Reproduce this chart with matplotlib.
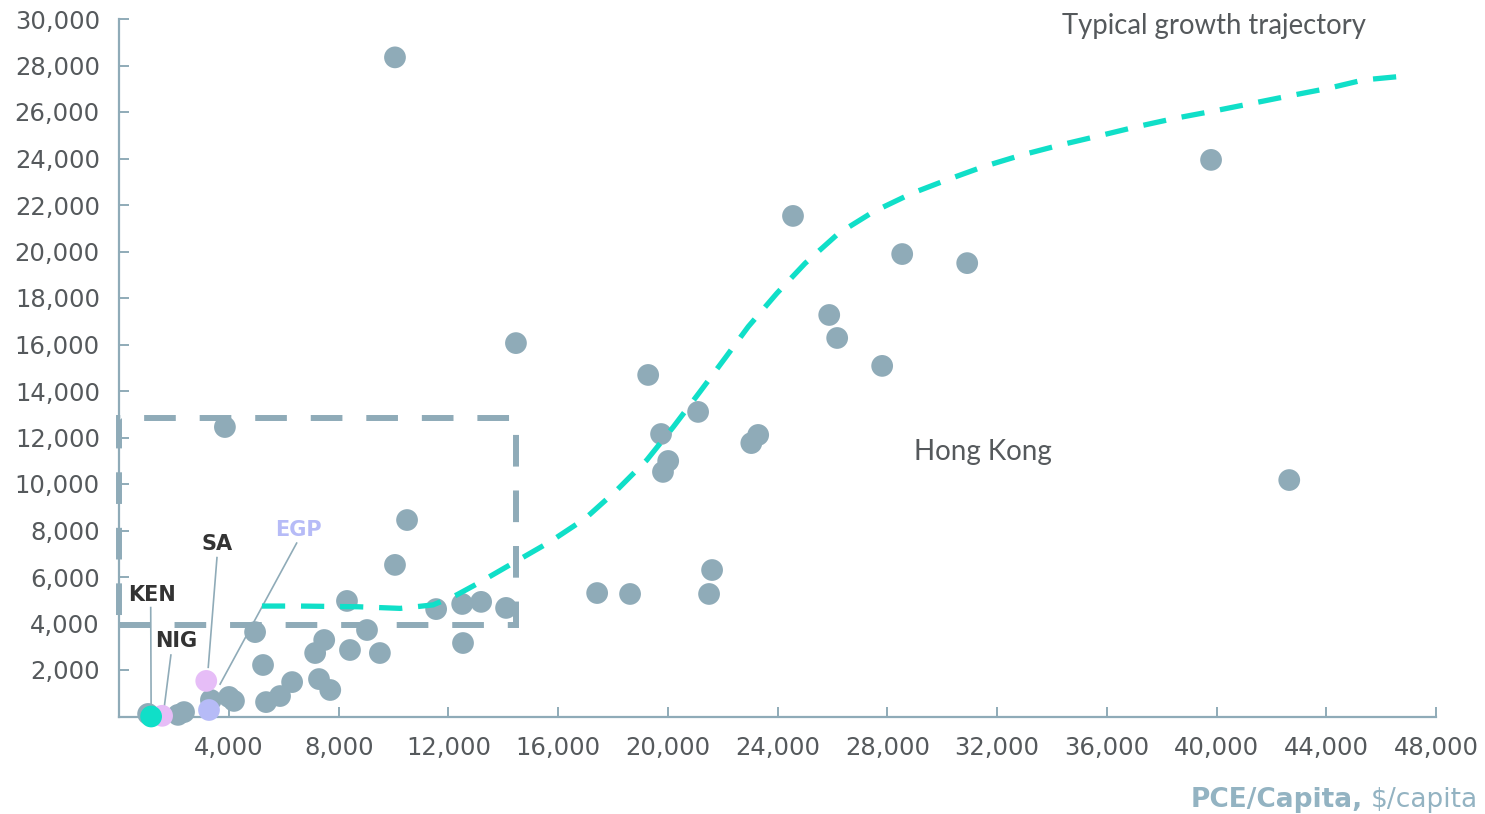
import matplotlib
matplotlib.use("Agg")
import matplotlib.pyplot as plt
from matplotlib.patches import Rectangle

# ---- data ----
pce_grey = [10050, 3850, 14460, 10490, 10050, 8300, 4950, 5240, 7470, 7140, 8410, 9030,
            9500, 6300, 5860, 5350, 7280, 7690, 4000, 4180, 3340, 2360, 2140, 1050,
            11550, 12500, 13190, 14100, 12530, 17420, 18620, 19280, 19750, 19820,
            20010, 21100, 21610, 21500, 23040, 23290, 24560, 25880, 26170, 27810,
            28540, 30910, 39800, 42650]
kwh_grey = [28350, 12450, 16060, 8450, 6520, 4970, 3630, 2215, 3290, 2730, 2860, 3720,
            2730, 1480, 880, 620, 1610, 1140, 840, 670, 710, 190, 70, 110,
            4620, 4840, 4930, 4670, 3160, 5310, 5270, 14690, 12150, 10520,
            10990, 13100, 6300, 5270, 11760, 12110, 21530, 17270, 16280, 15080,
            19890, 19500, 23940, 10170]

hl_names = ["SA", "EGP", "NIG", "KEN"]
hl_pce = [3170, 3270, 1560, 1160]
hl_kwh = [1530, 280, 30, 0]
hl_colors = ["#E6BDF7", "#B6BBF7", "#E6BDF7", "#10DFC8"]
label_colors = ["#333333", "#B6BBF7", "#333333", "#333333"]
label_xy = [(3563, 7420), (6530, 8020), (2070, 3230), (1180, 5220)]
leader_from = [(3563, 6870), (6480, 7490), (1885, 2680), (1145, 4720)]
leader_to = [(3240, 2080), (3660, 1360), (1640, 420), (1160, 420)]

curve_x = [5200, 6590, 8700, 10240, 11440, 12300, 13080, 14120, 15710, 16990, 18140,
           19230, 20200, 21170, 22080, 22930, 23970, 25000, 26220, 27490, 28890,
           30170, 31500, 32900, 34300, 35700, 37100, 38490, 39890, 41290, 42680,
           44080, 45360, 46880]
curve_y = [4750, 4750, 4720, 4650, 4800, 5230, 5730, 6440, 7520, 8520, 9740,
           11030, 12460, 13970, 15410, 16770, 18200, 19490, 20780, 21710, 22500,
           23080, 23650, 24150, 24580, 24970, 25370, 25730, 26040, 26370, 26700,
           27020, 27380, 27550]

box_x0, box_x1 = 0, 14450
box_y0, box_y1 = 3950, 12850

x_ticks = list(range(4000, 48001, 4000))
y_ticks = list(range(2000, 30001, 2000))

GREY = "#8FABB8"
TEAL = "#10DFC8"
TXT = "#55595C"

W, H = 1485, 814
fig = plt.figure(figsize=(W / 100, H / 100), dpi=100)
ax = fig.add_axes([119.3 / W, 1 - 716.5 / H, (1436 - 119.3) / W, (716.5 - 19) / H])

ax.set_xlim(0, 48000)
ax.set_ylim(0, 30000)

rect = Rectangle((box_x0, box_y0), box_x1 - box_x0, box_y1 - box_y0, fill=False,
                 edgecolor=GREY, lw=4.3, linestyle=(0, (5.3, 4.0)), zorder=1,
                 clip_on=False, capstyle="butt")
ax.add_patch(rect)

ax.scatter(pce_grey, kwh_grey, s=245, color=GREY, edgecolors="none", zorder=3, clip_on=False)

for i in range(len(hl_names)):
    ax.plot([leader_from[i][0], leader_to[i][0]], [leader_from[i][1], leader_to[i][1]],
            color=GREY, lw=1.2, zorder=2, solid_capstyle="butt")
    ax.text(label_xy[i][0], label_xy[i][1], hl_names[i], ha="center", va="center",
            fontsize=15, fontweight="bold", color=label_colors[i], family="DejaVu Sans")
ax.scatter(hl_pce, hl_kwh, s=245, c=hl_colors, edgecolors="none", zorder=4, clip_on=False)

ax.plot(curve_x, curve_y, color=TEAL, lw=3.8, linestyle=(0, (4.4, 3.0)),
        dash_capstyle="butt", zorder=5)

ax.text(39910, 29700, "Typical growth trajectory", ha="center", va="center",
        fontsize=19.8, color=TXT, family="Lato")
ax.text(31490, 11380, "Hong Kong", ha="center", va="center",
        fontsize=20, color=TXT, family="Lato")

for s in ["top", "right"]:
    ax.spines[s].set_visible(False)
for s in ["left", "bottom"]:
    ax.spines[s].set_color(GREY)
    ax.spines[s].set_linewidth(1.6)

ax.set_xticks(x_ticks)
ax.set_yticks(y_ticks)
ax.set_xticklabels([f"{v:,}" for v in x_ticks])
ax.set_yticklabels([f"{v:,}" for v in y_ticks])
ax.tick_params(direction="in", length=7, width=1.4, color=GREY, labelcolor=TXT,
               labelsize=17.5, pad=14)
for lab in ax.get_xticklabels() + ax.get_yticklabels():
    lab.set_family("DejaVu Sans")

# axis title: bold part + regular part, right-aligned
fig.canvas.draw()
r = fig.canvas.get_renderer()
t2 = fig.text(1478 / W, 1 - 800 / H, "\\$/capita", ha="right", va="center",
              fontsize=19, color="#93B3C2", family="DejaVu Sans")
bb = t2.get_window_extent(renderer=r)
fig.text((bb.x0 - 8) / W, 1 - 800 / H, "PCE/Capita,", ha="right", va="center",
         fontsize=19, fontweight="bold", color="#93B3C2", family="DejaVu Sans")

fig.savefig("out.png", dpi=100)
